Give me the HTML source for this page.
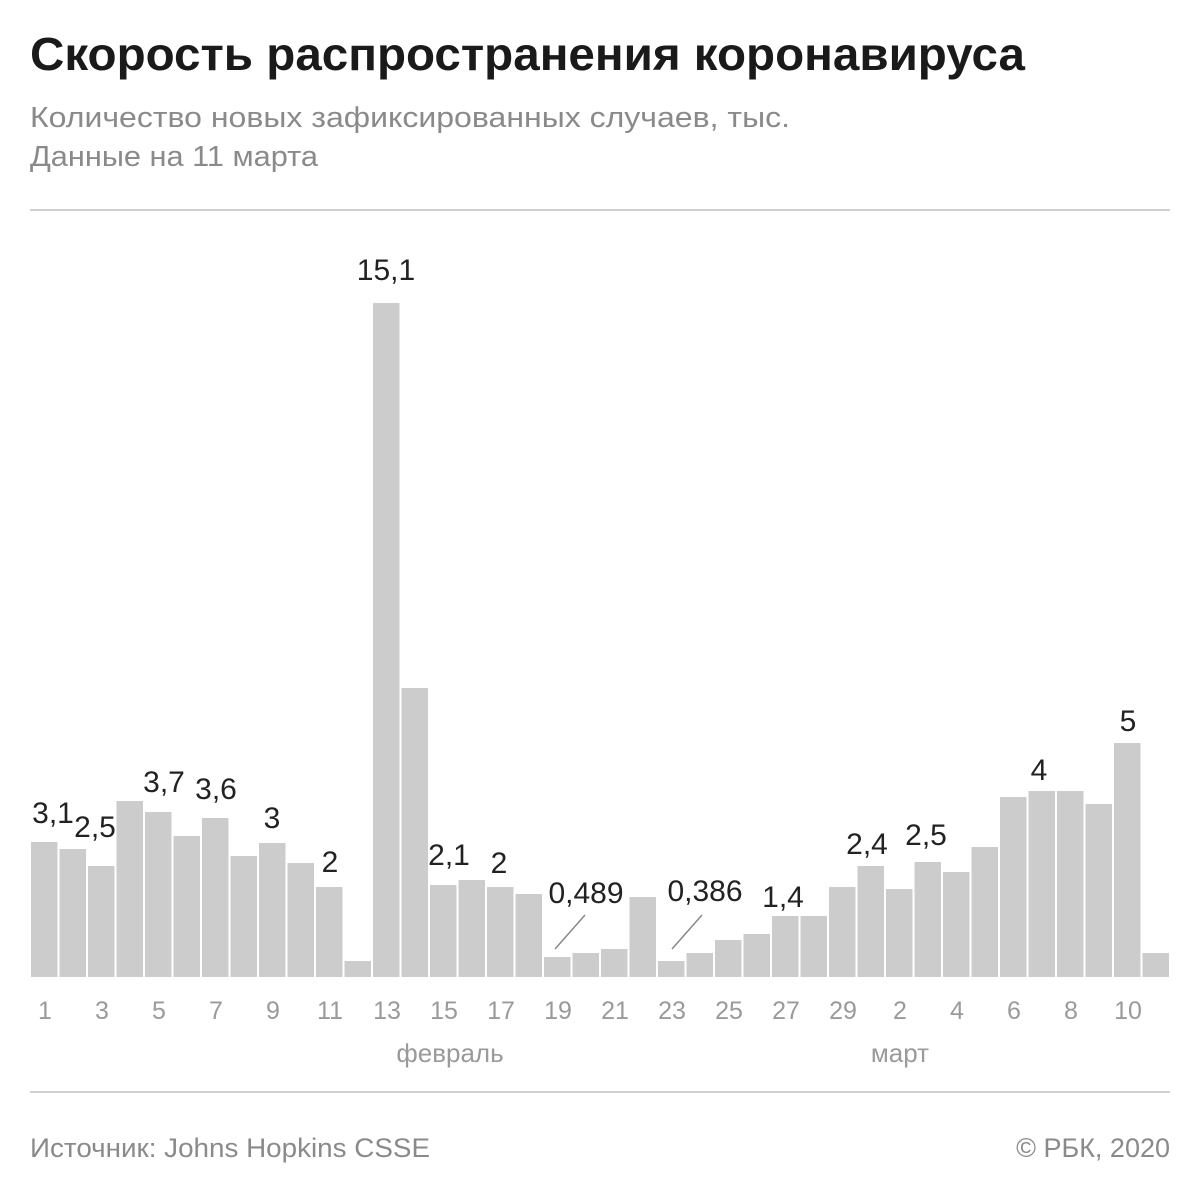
<!DOCTYPE html><html><head><meta charset="utf-8"><style>body{margin:0;background:#fff}svg{display:block}</style></head><body>
<svg width="1200" height="1200" xmlns="http://www.w3.org/2000/svg" font-family="Liberation Sans, sans-serif">
<text x="30" y="70" font-size="46" font-weight="bold" fill="#1a1a1a" textLength="995" lengthAdjust="spacingAndGlyphs">Скорость распространения коронавируса</text>
<text x="30" y="127" font-size="29" fill="#8a8a8a" textLength="760" lengthAdjust="spacingAndGlyphs">Количество новых зафиксированных случаев, тыс.</text>
<text x="30" y="166" font-size="29" fill="#8a8a8a" textLength="288" lengthAdjust="spacingAndGlyphs">Данные на 11 марта</text>
<line x1="30" y1="210" x2="1170" y2="210" stroke="#d0d0d0" stroke-width="2"/>
<line x1="30" y1="1092" x2="1170" y2="1092" stroke="#d0d0d0" stroke-width="2"/>
<g id="bars" fill="#cccccc"></g>
<g font-size="25" fill="#9a9a9a" text-anchor="middle" id="ticks"></g>
<text x="450" y="1062" font-size="26" fill="#9a9a9a" text-anchor="middle">февраль</text>
<text x="900" y="1062" font-size="26" fill="#9a9a9a" text-anchor="middle">март</text>
<g font-size="30" fill="#222" text-anchor="middle">
<text x="53" y="823">3,1</text><text x="95" y="837">2,5</text><text x="164" y="792">3,7</text><text x="216" y="799">3,6</text>
<text x="272" y="828">3</text><text x="330" y="872">2</text><text x="386" y="280">15,1</text><text x="449" y="865">2,1</text>
<text x="499" y="873">2</text><text x="586" y="903">0,489</text><text x="705" y="901">0,386</text><text x="783" y="907">1,4</text>
<text x="867" y="854">2,4</text><text x="926" y="845">2,5</text><text x="1039" y="780">4</text><text x="1128" y="731">5</text>
</g>
<line x1="555" y1="949" x2="585" y2="915" stroke="#888" stroke-width="1.5"/>
<line x1="672" y1="949" x2="702" y2="915" stroke="#888" stroke-width="1.5"/>
<text x="30" y="1157" font-size="27" fill="#8a8a8a" textLength="400" lengthAdjust="spacingAndGlyphs">Источник: Johns Hopkins CSSE</text>
<text x="1170" y="1157" font-size="27" fill="#8a8a8a" text-anchor="end">© РБК, 2020</text>
<script>
var t=[842,849,866,801,812,836,818,856,843,863,887,961,303,688,885,880,887,894,957,953,949,897,961,953,940,934,916,916,887,866,889,862,872,847,797,791,791,804,743,953];
var b=document.getElementById('bars'),k=document.getElementById('ticks'),ns='http://www.w3.org/2000/svg';
t.forEach(function(y,i){var r=document.createElementNS(ns,'rect');var x=31+i*28.5;r.setAttribute('x',x);r.setAttribute('y',y);r.setAttribute('width',26.5);r.setAttribute('height',977-y);b.appendChild(r);
var lab=null;if(i<29&&i%2==0)lab=i+1;if(i>=29&&(i-28)%2==0)lab=i-28;
if(lab!==null){var s=document.createElementNS(ns,'text');s.setAttribute('x',x+14);s.setAttribute('y',1019);s.textContent=lab;k.appendChild(s);}});
</script>
</svg></body></html>
